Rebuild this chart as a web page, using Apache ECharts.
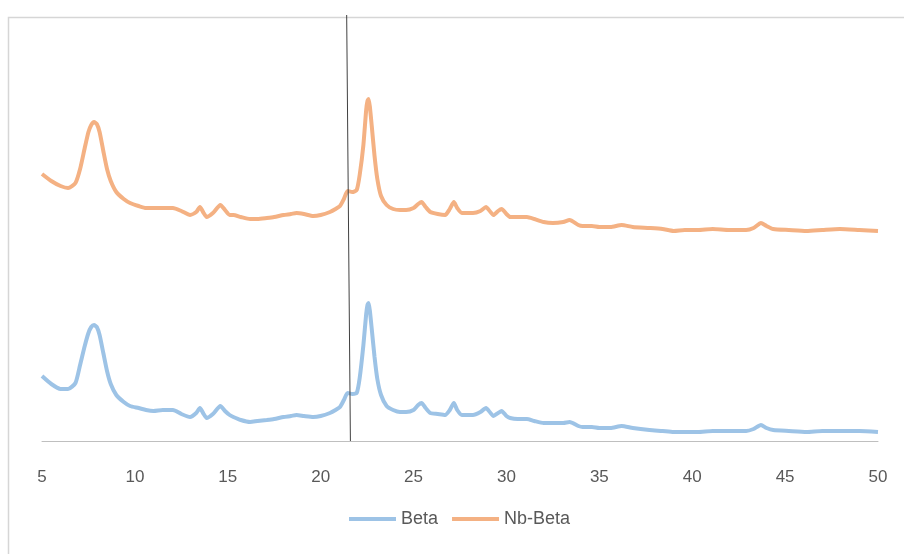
<!DOCTYPE html>
<html>
<head>
<meta charset="utf-8">
<script src="https://cdn.jsdelivr.net/npm/echarts@6/dist/echarts.min.js"></script>
<style>
  html, body { margin: 0; padding: 0; background: #fff; }
  #chart { width: 904px; height: 554px; }
</style>
</head>
<body>
<div id="chart"></div>
<script>
// 2θ positions (degrees)
const twoTheta = [5.0, 5.5, 6.0, 6.4, 6.8, 7.05, 7.3, 7.5, 7.65, 7.8, 7.95, 8.1, 8.3, 8.5, 8.7, 9.0, 9.4, 9.74, 10.2, 10.6, 11.0,
  11.5, 12.05, 12.5, 12.97, 13.3, 13.5, 13.7, 13.86, 14.2, 14.6, 14.85, 15.1, 15.3, 15.7, 16.2, 16.6, 17.1, 17.5, 18.0, 18.4,
  18.7, 19.1, 19.6, 20.0, 20.5, 20.8, 21.04, 21.25, 21.45, 21.7, 21.94, 22.1, 22.3, 22.45, 22.52, 22.58, 22.65, 22.75, 22.9, 23.05, 23.25, 23.55,
  23.9, 24.27, 24.6, 25.0, 25.25, 25.43, 25.65, 25.9, 26.3, 26.7, 26.95, 27.17, 27.35, 27.6, 28.2, 28.6, 28.9, 29.1, 29.3, 29.55,
  29.74, 30.0, 30.2, 30.6, 31.1, 31.5, 32.0, 32.5, 33.06, 33.4, 33.87, 34.1, 34.6, 35.0, 35.6, 36.2, 36.8, 37.7, 38.4, 39.0,
  39.6, 40.3, 41.1, 42.0, 42.9, 43.3, 43.7, 44.0, 44.36, 45.2, 46.15, 47.0, 47.95, 49.0, 50.0];

// intensity (a.u., stacked offset)
const beta = [65, 57, 52, 52, 58, 76, 95, 108, 114, 116, 114, 106, 88, 70, 57, 46, 39, 35, 33, 31, 30,
  31, 31, 27, 24, 28, 33, 27, 23, 27, 35, 30, 26, 24, 21, 19, 20, 21, 22, 24, 25,
  26, 25, 24, 25, 28, 31, 34, 41, 48, 47, 48, 63, 96, 127, 136, 138, 130, 112, 84, 62, 46, 35,
  31, 29, 29, 31, 36, 38, 33, 28, 27, 26, 31, 38, 31, 26, 26, 29, 33, 29, 25, 28,
  30, 25, 23, 22, 22, 20, 18, 18, 18, 19, 15, 14, 14, 13, 13, 15, 13, 11, 10, 9,
  9, 9, 10, 10, 10, 12, 16, 13, 11, 10, 9, 10, 10, 10, 9];

const nbBeta = [267, 260, 255, 253, 258, 272, 293, 309, 316, 319, 317, 309, 290, 272, 260, 249, 242, 238, 235, 233, 233,
  233, 233, 230, 226, 229, 234, 228, 224, 228, 236, 231, 226, 226, 224, 222, 222, 223, 224, 226, 227,
  228, 227, 225, 226, 229, 232, 235, 242, 250, 249, 251, 266, 296, 331, 340, 342, 334, 315, 285, 262, 245, 236,
  232, 231, 231, 233, 237, 239, 234, 229, 227, 226, 232, 239, 233, 228, 228, 230, 234, 230, 226, 230,
  232, 227, 224, 224, 224, 222, 219, 218, 219, 221, 216, 215, 215, 214, 214, 216, 214, 213, 212, 210,
  211, 211, 212, 211, 211, 213, 218, 215, 212, 211, 210, 211, 212, 211, 210];

const xTicks = [5, 10, 15, 20, 25, 30, 35, 40, 45, 50];
const markerAt = [21.4, 21.6]; // hand-drawn reference line, top -> bottom

const chart = echarts.init(document.getElementById('chart'));
const font = '"Liberation Sans", Arial, sans-serif';

chart.setOption({
  animation: false,
  graphic: [{
    type: 'rect',
    left: 6, top: 15,
    shape: { width: 1000, height: 1000 },
    style: { fill: 'none', stroke: '#d6d6d6', lineWidth: 1.5 },
    silent: true
  }],
  grid: { left: 42, right: 26, top: 15, bottom: 113 },
  legend: {
    bottom: 21,
    left: 344,
    icon: 'rect',
    itemWidth: 47,
    itemHeight: 4,
    itemGap: 14,
    textStyle: { fontFamily: font, fontSize: 18, color: '#595959' },
    data: ['Beta', 'Nb-Beta']
  },
  xAxis: {
    type: 'value',
    min: xTicks[0],
    max: xTicks[xTicks.length - 1],
    interval: 5,
    axisLine: { lineStyle: { color: '#bfbfbf', width: 1 } },
    axisTick: { show: false },
    splitLine: { show: false },
    axisLabel: { fontFamily: font, fontSize: 17, color: '#595959', margin: 28 }
  },
  yAxis: {
    type: 'value',
    min: 0,
    max: 426,
    show: false,
    splitLine: { show: false }
  },
  series: [
    {
      name: 'Beta',
      type: 'line',
      showSymbol: false,
      smooth: 0.2,
      data: twoTheta.map((x, i) => [x, beta[i]]),
      lineStyle: { color: '#9dc3e6', width: 4 },
      itemStyle: { color: '#9dc3e6' },
      markLine: {
        silent: true,
        symbol: 'none',
        label: { show: false },
        lineStyle: { color: '#404040', width: 1, type: 'solid' },
        data: [[{ coord: [markerAt[0], 426] }, { coord: [markerAt[1], 0] }]]
      }
    },
    {
      name: 'Nb-Beta',
      type: 'line',
      showSymbol: false,
      smooth: 0.2,
      data: twoTheta.map((x, i) => [x, nbBeta[i]]),
      lineStyle: { color: '#f4b183', width: 4 },
      itemStyle: { color: '#f4b183' }
    }
  ]
});
</script>
</body>
</html>
